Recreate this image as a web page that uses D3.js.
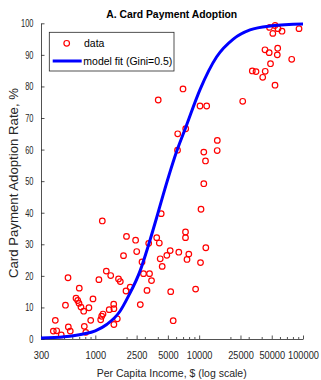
<!DOCTYPE html>
<html>
<head>
<meta charset="utf-8">
<script src="https://cdn.jsdelivr.net/npm/d3@7"></script>
<style>
	body { margin: 0; background: #fff; }
	text { font-family: "Liberation Sans", Arial, sans-serif; }
</style>
</head>
<body>
<script>

// Per capita income of each country, $
const incomes = [
	394, 425, 412, 470, 546, 516, 550, 574, 652, 677,
	701, 697, 728, 773, 784, 810, 868, 903, 950, 1083,
	1127, 1152, 1186, 1168, 1276, 1361, 1407, 1504, 1510, 1510,
	1629, 1673, 1741, 1869, 1975, 1997, 2168, 2444, 2504, 2712,
	2817, 2912, 3146, 3268, 3327, 3478, 3902, 4134, 4217, 4311,
	4407, 4882, 5263, 5322, 5624, 6368, 7389, 7389, 7639, 7950,
	9245, 10306, 10420, 11593, 6189, 6217, 7422, 4035, 6990, 10191,
	11820, 11085, 11511, 11085, 14955, 14921, 26265, 32490, 35280, 43260,
	40920, 48660, 53760, 43050, 47250, 57060, 56550, 77850, 47580, 53760,
	51210, 57450, 62790, 91530
];

// Card payment adoption rate of each country, %
const adoptionRates = [
	2.5, 2.6, 5.9, 1.3, 19.4, 10.7, 3.8, 2.5, 12.9, 12.2,
	16.1, 11.3, 10.1, 8.8, 4.0, 2.1, 9.9, 5.9, 12.7, 18.8,
	6.1, 7.2, 7.9, 37.4, 21.5, 9.3, 20.1, 11.0, 9.6, 4.6,
	6.4, 19.0, 18.2, 26.4, 15.2, 32.5, 16.4, 31.3, 27.7, 10.9,
	24.4, 20.7, 15.4, 30.3, 20.7, 18.5, 32.1, 30.4, 25.4, 39.7,
	23.0, 26.5, 28.0, 15.0, 5.8, 27.5, 33.9, 32.1, 25.2, 26.9,
	15.8, 24.2, 41.1, 28.9, 59.8, 65.0, 66.6, 75.7, 79.2, 73.8,
	73.8, 59.2, 56.4, 49.2, 62.9, 59.7, 75.3, 84.9, 84.7, 84.8,
	82.9, 87.2, 80.4, 91.6, 90.7, 92.1, 90.0, 88.6, 98.7, 99.3,
	96.8, 98.3, 97.5, 98.3
];

// Model fit curve (Gini=0.5)
const fitIncomes = [300, 500, 766, 1000, 1287, 1729, 2079, 2695, 3236, 3902, 4488, 6161, 7422, 10191, 14757, 21320, 30880, 50000, 100000];
const fitRates = [0.3, 0.7, 1.6, 2.6, 4.6, 8.8, 13.5, 21.5, 29.5, 38.5, 45.5, 60, 67, 79, 89.4, 95, 97.9, 99.2, 99.8];

// Tick labels
const xTickValues = [300, 1000, 2500, 5000, 10000, 25000, 50000, 100000];
const xMinorTicks = [400, 500, 600, 700, 800, 900, 2000, 3000, 4000, 6000, 7000, 8000, 9000,
	20000, 30000, 40000, 60000, 70000, 80000, 90000];
const yTickValues = [0, 10, 20, 30, 40, 50, 60, 70, 80, 90, 100];

const legendLabels = ["data", "model fit (Gini=0.5)"];


const width = 321;
const height = 380;

var plotMargins = {
	top: 23.3,
	bottom: 41,
	left: 41,
	right: 18
};

var plotWidth = width - plotMargins.left - plotMargins.right;
var plotHeight = height - plotMargins.top - plotMargins.bottom;

var canvas = d3.select('body')
	.append('svg')
	.attr('width', width)
	.attr('height', height);

var plotGroup = canvas.append('g')
	.attr('transform', `translate(${plotMargins.left},${plotMargins.top})`);

// scales
var xScale = d3.scaleLog().domain([300, 100000]).range([0, plotWidth]);
var yScale = d3.scaleLinear().domain([0, 100]).range([plotHeight, 0]);

// minor x ticks (log scale)
var xMinorAxis = d3.axisBottom(xScale)
	.tickValues(xMinorTicks)
	.tickSizeInner(-2)
	.tickSizeOuter(0)
	.tickFormat('');
plotGroup.append('g')
	.attr('transform', `translate(0,${plotHeight})`)
	.call(xMinorAxis)
	.call(g => g.select('.domain').remove());

// x-axis
var xAxis = d3.axisBottom(xScale)
	.tickValues(xTickValues)
	.tickSizeInner(-3.5)
	.tickSizeOuter(0)
	.tickPadding(12)
	.tickFormat(d3.format('d'));
var xAxisGroup = plotGroup.append('g')
	.attr('transform', `translate(0,${plotHeight})`)
	.call(xAxis);

// y-axis
var yAxis = d3.axisLeft(yScale)
	.tickValues(yTickValues)
	.tickSizeInner(-3.5)
	.tickSizeOuter(0)
	.tickPadding(7.5);
var yAxisGroup = plotGroup.append('g')
	.call(yAxis);

// axis styling (MATLAB-ish dark grey, squeezed digits)
plotGroup.selectAll('.domain, .tick line')
	.attr('stroke', '#262626')
	.attr('stroke-width', 0.8);
xAxisGroup.selectAll('text')
	.attr('fill', '#262626')
	.style('font-size', '11px')
	.attr('x', 0)
	.attr('transform', 'scale(0.84,1)');
yAxisGroup.selectAll('text')
	.attr('fill', '#262626')
	.style('font-size', '11px')
	.attr('x', -7.5 / 0.68)
	.attr('transform', 'scale(0.68,1)');

// data points
var pointsGroup = plotGroup.append('g').classed('points', true);
pointsGroup.selectAll('circle')
	.data(incomes.map((v, i) => ({ income: v, rate: adoptionRates[i] })))
	.enter()
	.append('circle')
	.attr('cx', d => xScale(d.income))
	.attr('cy', d => yScale(d.rate))
	.attr('r', 2.8)
	.attr('fill', 'none')
	.attr('stroke', '#ff0000')
	.attr('stroke-width', 1.2);

// model fit line
var fitLine = d3.line()
	.x(d => xScale(d[0]))
	.y(d => yScale(d[1]))
	.curve(d3.curveMonotoneX);
plotGroup.append('path')
	.datum(fitIncomes.map((v, i) => [v, fitRates[i]]))
	.attr('d', fitLine)
	.attr('fill', 'none')
	.attr('stroke', '#0000ff')
	.attr('stroke-width', 3);

// title
canvas.append('text')
	.attr('x', 171.7)
	.attr('y', 18.3)
	.attr('text-anchor', 'middle')
	.style('font-size', '11.5px')
	.style('font-weight', 'bold')
	.attr('fill', '#000')
	.attr('textLength', 131)
	.attr('lengthAdjust', 'spacingAndGlyphs')
	.text('A. Card Payment Adoption');

// axis labels
canvas.append('text')
	.attr('x', 171.7)
	.attr('y', 376.5)
	.attr('text-anchor', 'middle')
	.style('font-size', '11.5px')
	.attr('fill', '#262626')
	.attr('textLength', 150)
	.attr('lengthAdjust', 'spacingAndGlyphs')
	.text('Per Capita Income, $ (log scale)');

canvas.append('text')
	.attr('transform', `translate(18,183) rotate(-90)`)
	.attr('text-anchor', 'middle')
	.style('font-size', '12.5px')
	.attr('fill', '#262626')
	.attr('textLength', 190)
	.attr('lengthAdjust', 'spacingAndGlyphs')
	.text('Card Payment Adoption Rate, %');

// legend
var legend = canvas.append('g').classed('legend', true);
legend.append('rect')
	.attr('x', 49.3)
	.attr('y', 32.3)
	.attr('width', 124.7)
	.attr('height', 38.7)
	.attr('fill', '#fff')
	.attr('stroke', '#262626')
	.attr('stroke-width', 0.8);
legend.append('circle')
	.attr('cx', 66.7)
	.attr('cy', 43.3)
	.attr('r', 2.8)
	.attr('fill', 'none')
	.attr('stroke', '#ff0000')
	.attr('stroke-width', 1.2);
legend.append('line')
	.attr('x1', 52.7)
	.attr('x2', 81.7)
	.attr('y1', 61)
	.attr('y2', 61)
	.attr('stroke', '#0000ff')
	.attr('stroke-width', 3);
legend.selectAll('text.label')
	.data(legendLabels)
	.enter()
	.append('text')
	.classed('label', true)
	.attr('x', (d, i) => i === 0 ? 84 : 83.3)
	.attr('y', (d, i) => i === 0 ? 47.3 : 65)
	.style('font-size', '10.5px')
	.attr('fill', '#000')
	.text(d => d);

</script>
</body>
</html>
